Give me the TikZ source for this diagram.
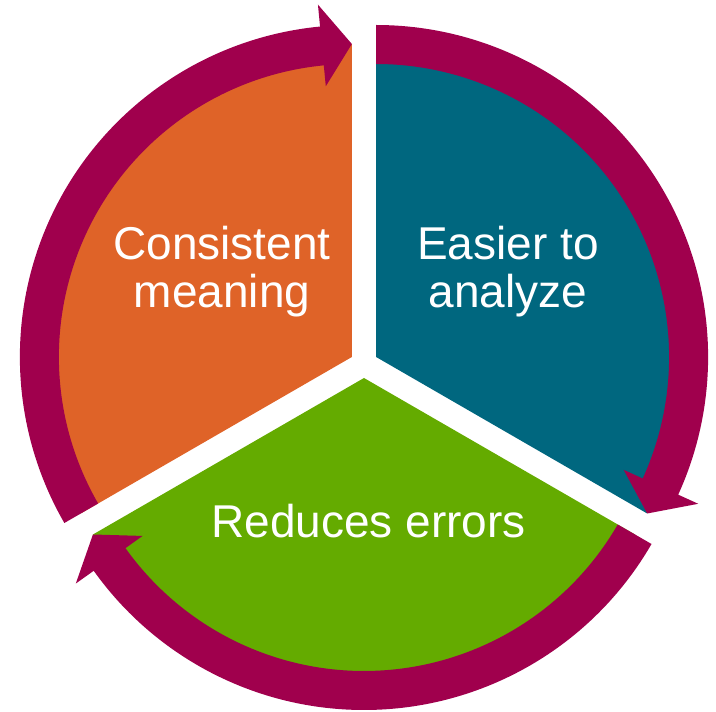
\documentclass[tikz,border=0pt]{standalone}
\usepackage{fontspec}
\setmainfont{Liberation Sans}
\definecolor{cycleOrange}{HTML}{DF6328}
\definecolor{cycleTeal}{HTML}{00677F}
\definecolor{cycleGreen}{HTML}{64AB00}
\definecolor{cycleRing}{HTML}{A0004D}
\usepackage{tikz}
\usetikzlibrary{
	positioning,
	calc
}
\tikzset{
	sector/.style={
		draw=none
	},
	ringarrow/.style={
		fill=cycleRing,
		draw=none
	},
	sectorText/.style={
		text=white,
		align=center,
		inner sep=0pt,
		font=\fontsize{46}{48}\selectfont
	}
}
% #1 colour, #2 start angle, #3 end angle (arrow tip), #4 offset direction
\newcommand{\CycleUnit}[4]{%
	\begin{scope}[shift={(#4:14)}]
		\fill[sector, #1] (0,0) -- (#2:313) arc[start angle=#2, end angle=#3, radius=313] -- cycle;
		\fill[ringarrow] (#2:293) -- (#2:332)
			arc[start angle=#2, end angle={#3+5.5}, radius=332]
			-- ({#3+5.5}:354) -- (#3:313) -- ({#3+5.5}:272) -- ({#3+5.5}:293)
			arc[start angle={#3+5.5}, end angle=#2, radius=293] -- cycle;
	\end{scope}}

\begin{document}
\begin{tikzpicture}[x=1pt, y=1pt]
		\useasboundingbox (-364,-348) rectangle (352,364);
		\CycleUnit{cycleOrange}{210}{90}{150}
		\CycleUnit{cycleTeal}{90}{-30}{30}
		\CycleUnit{cycleGreen}{-30}{-150}{-90}
		\node[sectorText] (meaning) at (-142,92) {Consistent\\meaning};
		\node[sectorText] (analyze) at (144,92) {Easier to\\analyze};
		\node[sectorText] (errors) at (4.5,-157) {Reduces errors};
	\end{tikzpicture}
\end{document}
